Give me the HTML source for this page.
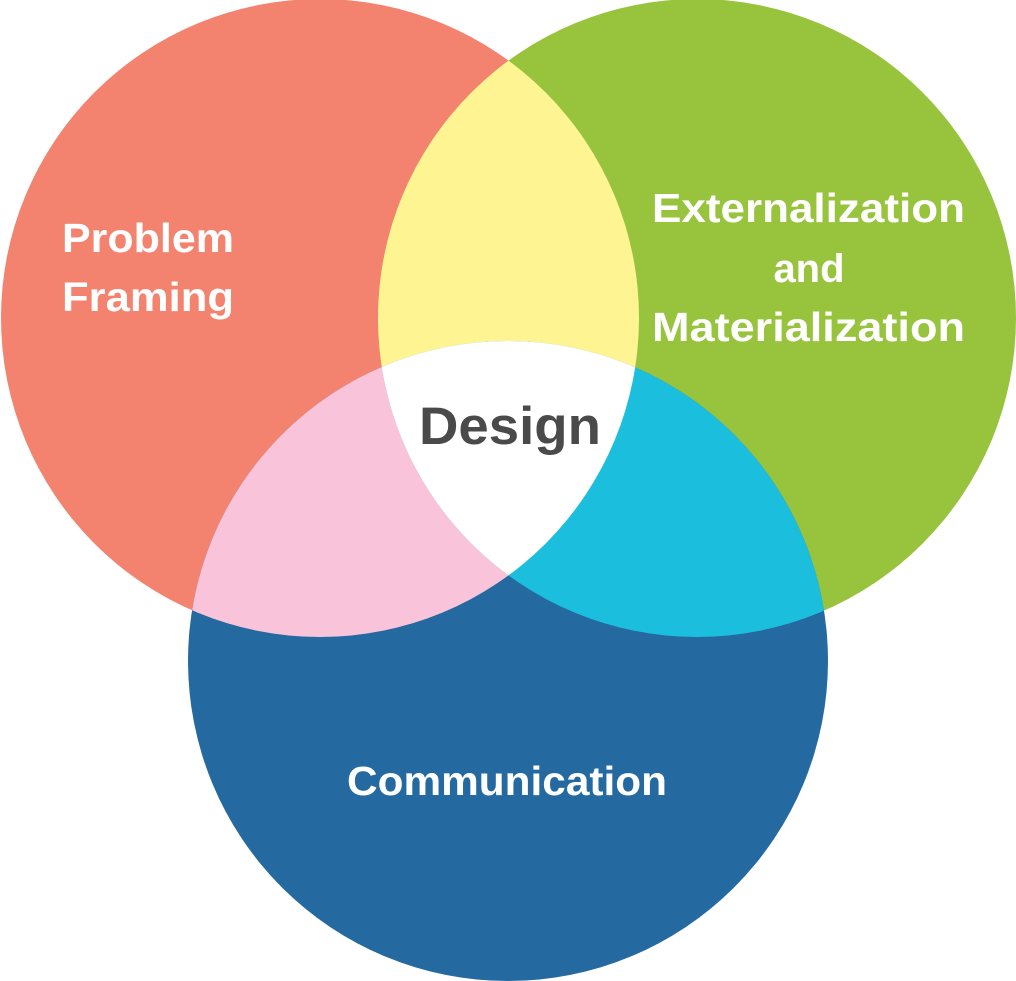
<!DOCTYPE html>
<html><head><meta charset="utf-8"><style>html,body{margin:0;padding:0;background:#fff}svg{display:block}</style></head>
<body>
<svg width="1016" height="981" viewBox="0 0 1016 981" xmlns="http://www.w3.org/2000/svg">
<defs>
<clipPath id="cR"><circle cx="320" cy="318" r="319"/></clipPath>
<clipPath id="cG"><circle cx="697" cy="318" r="319"/></clipPath>
<clipPath id="cB"><circle cx="508" cy="661" r="320"/></clipPath>
</defs>
<circle cx="320" cy="318" r="319" fill="#F3836F"/>
<circle cx="697" cy="318" r="319" fill="#98C33D"/>
<circle cx="508" cy="661" r="320" fill="#2469A0"/>
<g clip-path="url(#cR)"><circle cx="697" cy="318" r="319" fill="#FEF592"/></g>
<g clip-path="url(#cR)"><circle cx="508" cy="661" r="320" fill="#F9C4DA"/></g>
<g clip-path="url(#cG)"><circle cx="508" cy="661" r="320" fill="#1CBEDE"/></g>
<g clip-path="url(#cR)"><g clip-path="url(#cG)"><circle cx="508" cy="661" r="320" fill="#FFFFFF"/></g></g>
<g font-family="Liberation Sans, sans-serif" font-weight="bold" fill="#fff" font-size="41">
<text x="62" y="252" textLength="172" lengthAdjust="spacingAndGlyphs">Problem</text>
<text x="62" y="311" textLength="172" lengthAdjust="spacingAndGlyphs">Framing</text>
<text x="652" y="222" textLength="313" lengthAdjust="spacingAndGlyphs">Externalization</text>
<text x="809" y="282" text-anchor="middle" font-size="40">and</text>
<text x="652" y="341" textLength="313" lengthAdjust="spacingAndGlyphs">Materialization</text>
<text x="347" y="795" textLength="320" lengthAdjust="spacingAndGlyphs">Communication</text>
<text x="419" y="444" font-size="53" fill="#4A4A4A" textLength="182" lengthAdjust="spacingAndGlyphs">Design</text>
</g>
</svg>
</body></html>
